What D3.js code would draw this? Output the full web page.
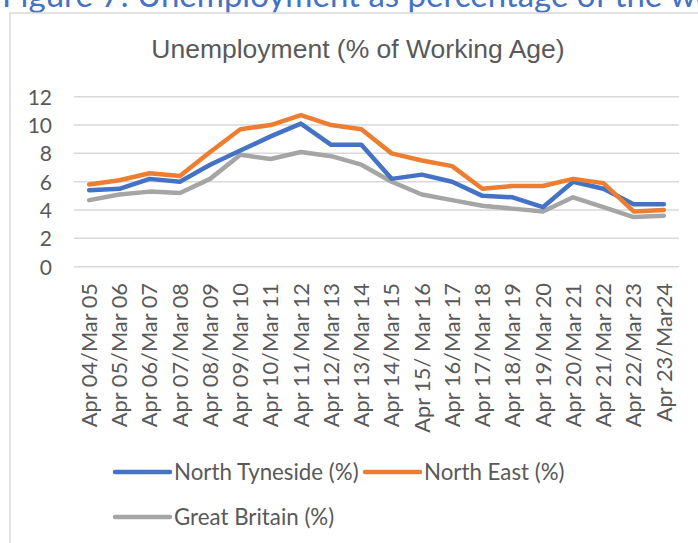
<!DOCTYPE html>
<html>
<head>
<meta charset="utf-8">
<script src="https://cdn.jsdelivr.net/npm/d3@7"></script>
<style>
  html, body { margin: 0; padding: 0; background: #fff; overflow: hidden; }
  svg { display: block; }
</style>
</head>
<body>
<svg id="chart" width="698" height="543"></svg>
<script>
const categories = [
  "Apr 04/Mar 05", "Apr 05/Mar 06", "Apr 06/Mar 07", "Apr 07/Mar 08", "Apr 08/Mar 09",
  "Apr 09/Mar 10", "Apr 10/Mar 11", "Apr 11/Mar 12", "Apr 12/Mar 13", "Apr 13/Mar 14",
  "Apr 14/Mar 15", "Apr 15/ Mar 16", "Apr 16/Mar 17", "Apr 17/Mar 18", "Apr 18/Mar 19",
  "Apr 19/Mar 20", "Apr 20/Mar 21", "Apr 21/Mar 22", "Apr 22/Mar 23", "Apr 23/Mar24"
];
const northTyneside = [5.4, 5.5, 6.2, 6.0, 7.2, 8.2, 9.2, 10.1, 8.6, 8.6, 6.2, 6.5, 6.0, 5.0, 4.9, 4.2, 6.0, 5.5, 4.4, 4.4];
const northEast     = [5.8, 6.1, 6.6, 6.4, 8.1, 9.7, 10.0, 10.7, 10.0, 9.7, 8.0, 7.5, 7.1, 5.5, 5.7, 5.7, 6.2, 5.9, 3.9, 4.0];
const greatBritain  = [4.7, 5.1, 5.3, 5.2, 6.2, 7.9, 7.6, 8.1, 7.8, 7.2, 6.0, 5.1, 4.7, 4.3, 4.1, 3.9, 4.9, 4.2, 3.5, 3.6];
const yTicks = [0, 2, 4, 6, 8, 10, 12];
const seriesNames = ["North Tyneside (%)", "North East (%)", "Great Britain (%)"];
const colors = ["#4472C4", "#ED7D31", "#A5A5A5"];
const chartTitle = "Unemployment (% of Working Age)";
const captionText = "Figure 7: Unemployment as percentage of the working age population";

const svg = d3.select("#chart");
const bodyFont = "Lato, 'Open Sans', sans-serif";

// caption (cut off at the top, as in the source)
svg.append("text")
  .attr("x", 2).attr("y", 7)
  .attr("fill", "#4472C4")
  .attr("font-family", bodyFont)
  .attr("font-size", 33)
  .text(captionText);

// chart frame
svg.append("rect")
  .attr("x", 10).attr("y", 13)
  .attr("width", 720).attr("height", 560)
  .attr("fill", "#fff")
  .attr("stroke", "#D9D9D9").attr("stroke-width", 1.5);

// title
svg.append("text")
  .attr("x", 358).attr("y", 58)
  .attr("text-anchor", "middle")
  .attr("fill", "#595959")
  .attr("font-family", "'Liberation Sans', Arial, sans-serif")
  .attr("font-size", 26.5)
  .text(chartTitle);

const x = d3.scaleBand().domain(categories).range([74, 679]).padding(0);
const y = d3.scaleLinear().domain([0, 12]).range([266.7, 96.7]);

// gridlines
svg.append("g").selectAll("line").data(yTicks).join("line")
  .attr("x1", 74).attr("x2", 679)
  .attr("y1", d => y(d)).attr("y2", d => y(d))
  .attr("stroke", "#D9D9D9").attr("stroke-width", 1.5);

// y axis
const yAxis = svg.append("g").attr("transform", "translate(52,0)")
  .call(d3.axisLeft(y).tickValues(yTicks).tickSize(0).tickPadding(0));
yAxis.select(".domain").remove();
yAxis.selectAll("text")
  .attr("fill", "#595959")
  .attr("font-family", bodyFont)
  .attr("font-size", 21)
  .attr("dy", "0.36em");

// x axis
const xAxis = svg.append("g").attr("transform", "translate(0,270)")
  .call(d3.axisBottom(x).tickSize(0).tickPadding(0));
xAxis.select(".domain").remove();
xAxis.selectAll("text")
  .attr("fill", "#595959")
  .attr("font-family", bodyFont)
  .attr("font-size", 21.8)
  .attr("text-anchor", "end")
  .attr("transform", "rotate(-90)")
  .attr("x", -13).attr("y", 0).attr("dy", "0.36em");

// lines
const allSeries = [northTyneside, northEast, greatBritain];
const line = d3.line()
  .x((d, i) => x(categories[i]) + x.bandwidth() / 2)
  .y(d => y(d));
const drawOrder = [2, 0, 1];
svg.append("g").selectAll("path").data(drawOrder).join("path")
  .attr("d", k => line(allSeries[k]))
  .attr("fill", "none")
  .attr("stroke", k => colors[k])
  .attr("stroke-width", 4.5)
  .attr("stroke-linejoin", "round")
  .attr("stroke-linecap", "round");

// legend
const legendItems = [
  { k: 0, x: 115, y: 472 },
  { k: 1, x: 365, y: 472 },
  { k: 2, x: 115, y: 517 }
];
const lg = svg.append("g").selectAll("g").data(legendItems).join("g")
  .attr("transform", d => `translate(${d.x},${d.y})`);
lg.append("line")
  .attr("x1", 0).attr("x2", 55).attr("y1", 0).attr("y2", 0)
  .attr("stroke", d => colors[d.k]).attr("stroke-width", 4.5)
  .attr("stroke-linecap", "round");
lg.append("text")
  .attr("x", 59).attr("y", 0).attr("dy", "0.36em")
  .attr("fill", "#595959")
  .attr("font-family", bodyFont)
  .attr("font-size", 22.3)
  .text(d => seriesNames[d.k]);
</script>
</body>
</html>
